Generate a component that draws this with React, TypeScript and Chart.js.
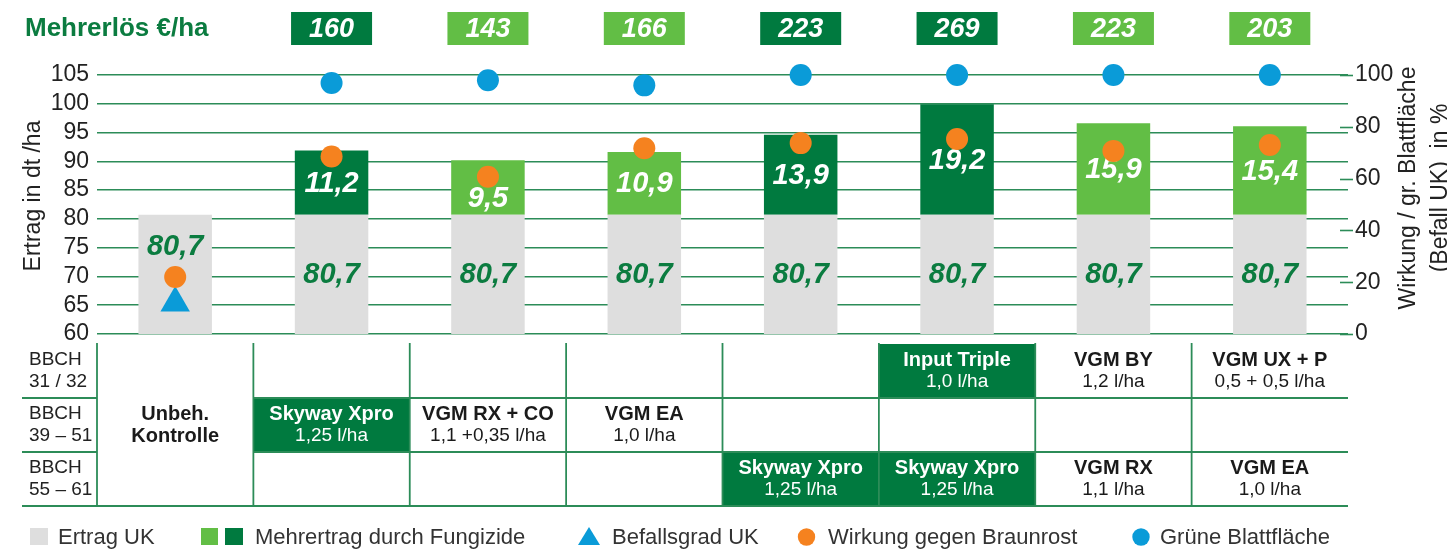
import React, { useEffect, useRef } from 'react';
import { Chart, registerables } from 'chart.js';

Chart.register(...registerables);

// ---------- data ----------
const categories = [
  'Unbeh. Kontrolle',
  'Skyway Xpro',
  'VGM RX + CO',
  'VGM EA',
  'Skyway Xpro (BBCH 55–61)',
  'Input Triple + Skyway Xpro',
  'VGM BY + VGM RX',
  'VGM UX + P + VGM EA',
];
const ertragUK = [80.7, 80.7, 80.7, 80.7, 80.7, 80.7, 80.7, 80.7];
const mehrertrag = [null, 11.2, 9.5, 10.9, 13.9, 19.2, 15.9, 15.4];
const mehrertragDark = [false, true, false, false, true, true, false, false];
const mehrerloes = [null, 160, 143, 166, 223, 269, 223, 203];
const befallsgrad = [12, null, null, null, null, null, null, null];
const wirkung = [22, 68.5, 60.7, 71.7, 73.7, 75.3, 70.7, 73];
const blattflaeche = [null, 96.9, 98, 96, 100, 100, 100, 100];
const leftTickMin = 60;
const leftTickMax = 105;
const leftTickStep = 5;
const rightTicks = [0, 20, 40, 60, 80, 100];
const bbchRows = [
  ['BBCH', '31 / 32'],
  ['BBCH', '39 – 51'],
  ['BBCH', '55 – 61'],
];
type Cell = { name: string; rate: string; dark?: boolean } | null;
const tableRow1: Cell[] = [
  null, null, null, null, null,
  { name: 'Input Triple', rate: '1,0 l/ha', dark: true },
  { name: 'VGM BY', rate: '1,2 l/ha' },
  { name: 'VGM UX + P', rate: '0,5 + 0,5 l/ha' },
];
const tableRow2: Cell[] = [
  null,
  { name: 'Skyway Xpro', rate: '1,25 l/ha', dark: true },
  { name: 'VGM RX + CO', rate: '1,1 +0,35 l/ha' },
  { name: 'VGM EA', rate: '1,0 l/ha' },
  null, null, null, null,
];
const tableRow3: Cell[] = [
  null, null, null, null,
  { name: 'Skyway Xpro', rate: '1,25 l/ha', dark: true },
  { name: 'Skyway Xpro', rate: '1,25 l/ha', dark: true },
  { name: 'VGM RX', rate: '1,1 l/ha' },
  { name: 'VGM EA', rate: '1,0 l/ha' },
];
const controlLabel = ['Unbeh.', 'Kontrolle'];
const legendLabels = ['Ertrag UK', 'Mehrertrag durch Fungizide', 'Befallsgrad UK', 'Wirkung gegen Braunrost', 'Grüne Blattfläche'];

// ---------- styles ----------
const GRAY = '#DEDEDE';
const DARK = '#007A3F';
const LIGHT = '#62BE45';
const ORANGE = '#F5821F';
const BLUE = '#0A9BD8';
const GRID = '#2C8C58';
const TEXT = '#222222';
const LABEL_GREEN = '#0B7C40';
const FONT = "'Liberation Sans', Arial, Helvetica, sans-serif";

const fmt = (v: number) => v.toFixed(1).replace('.', ',');

const overlayPlugin = {
  id: 'overlay',
  afterDatasetDraw(chart: any, args: any) {
    if (args.index !== 0) return;
    const ctx = chart.ctx;
    const x = chart.scales.x;
    const y = chart.scales.y;
    const y1 = chart.scales.y1;
    const area = chart.chartArea;
    ctx.save();
    ctx.textAlign = 'center';
    ctx.textBaseline = 'middle';
    ctx.font = `italic bold 29px ${FONT}`;
    for (let i = 0; i < categories.length; i++) {
      const cx = x.getPixelForValue(i);
      const baseTop = y.getPixelForValue(ertragUK[i]);
      const inc = mehrertrag[i];
      let by = (area.bottom + baseTop) / 2;
      if (inc == null) by = y1.getPixelForValue(wirkung[i]) - 31;
      ctx.fillStyle = LABEL_GREEN;
      ctx.fillText(fmt(ertragUK[i]), cx, by + 1);
      if (inc != null) {
        const top = y.getPixelForValue(ertragUK[i] + inc);
        let iy = (top + baseTop) / 2;
        if (i === 2) iy += 10;
        ctx.fillStyle = '#FFFFFF';
        ctx.fillText(fmt(inc), cx, iy + 1);
      }
    }
    ctx.restore();
  },
  afterDraw(chart: any) {
    const ctx = chart.ctx;
    const x = chart.scales.x;
    const y1 = chart.scales.y1;
    const area = chart.chartArea;
    const half = (x.getPixelForValue(1) - x.getPixelForValue(0)) / 2;
    const bounds: number[] = [];
    for (let i = 0; i <= categories.length; i++) bounds.push(i < categories.length ? x.getPixelForValue(i) - half : x.getPixelForValue(i - 1) + half);
    ctx.save();

    // right axis tick marks
    ctx.strokeStyle = GRID;
    ctx.lineWidth = 1.6;
    rightTicks.forEach((v) => {
      const py = Math.round(y1.getPixelForValue(v)) + 0.5;
      ctx.beginPath();
      ctx.moveTo(area.right - 8, py);
      ctx.lineTo(area.right + 5, py);
      ctx.stroke();
    });

    // axis titles
    ctx.fillStyle = TEXT;
    ctx.font = `23px ${FONT}`;
    ctx.textAlign = 'center';
    ctx.textBaseline = 'middle';
    ctx.save();
    ctx.translate(34, 196);
    ctx.rotate(-Math.PI / 2);
    ctx.fillText('Ertrag in dt /ha', 0, 0);
    ctx.restore();
    ctx.save();
    ctx.translate(1409, 188);
    ctx.rotate(-Math.PI / 2);
    ctx.fillText('Wirkung / gr. Blattfläche', 0, 0);
    ctx.fillText('(Befall UK)  in %', 0, 32);
    ctx.restore();

    // header
    ctx.textAlign = 'left';
    ctx.fillStyle = LABEL_GREEN;
    ctx.font = `bold 26px ${FONT}`;
    ctx.fillText('Mehrerlös €/ha', 25, 29);
    ctx.textAlign = 'center';
    ctx.font = `italic bold 27px ${FONT}`;
    for (let i = 0; i < categories.length; i++) {
      const v = mehrerloes[i];
      if (v == null) continue;
      const cx = x.getPixelForValue(i);
      ctx.fillStyle = mehrertragDark[i] ? DARK : LIGHT;
      ctx.fillRect(cx - 40.5, 12, 81, 33);
      ctx.fillStyle = '#FFFFFF';
      ctx.fillText(String(v), cx, 30);
    }

    // table
    const top = area.bottom + 10;
    const rowH = 54;
    const rows = [tableRow1, tableRow2, tableRow3];
    const tableLeft = 22;
    rows.forEach((row, r) => {
      row.forEach((cell, c) => {
        if (cell && cell.dark) {
          ctx.fillStyle = DARK;
          ctx.fillRect(bounds[c], top + r * rowH, bounds[c + 1] - bounds[c], rowH);
        }
      });
    });
    ctx.strokeStyle = GRID;
    ctx.lineWidth = 1.8;
    for (let r = 1; r <= 3; r++) {
      const ly = top + r * rowH;
      ctx.beginPath();
      if (r < 3) {
        ctx.moveTo(tableLeft, ly);
        ctx.lineTo(bounds[0], ly);
        ctx.moveTo(bounds[1], ly);
        ctx.lineTo(area.right, ly);
      } else {
        ctx.moveTo(tableLeft, ly);
        ctx.lineTo(area.right, ly);
      }
      ctx.stroke();
    }
    for (let c = 0; c < categories.length; c++) {
      ctx.beginPath();
      ctx.moveTo(bounds[c], top - 1);
      ctx.lineTo(bounds[c], top + 3 * rowH);
      ctx.stroke();
    }
    // BBCH labels
    ctx.textAlign = 'left';
    ctx.fillStyle = TEXT;
    ctx.font = `19px ${FONT}`;
    bbchRows.forEach((lines, r) => {
      ctx.fillText(lines[0], 29, top + r * rowH + 16);
      ctx.fillText(lines[1], 29, top + r * rowH + 38);
    });
    // cells
    ctx.textAlign = 'center';
    rows.forEach((row, r) => {
      row.forEach((cell, c) => {
        if (!cell) return;
        const cx = (bounds[c] + bounds[c + 1]) / 2;
        ctx.fillStyle = cell.dark ? '#FFFFFF' : '#1A1A1A';
        ctx.font = `bold 20px ${FONT}`;
        ctx.fillText(cell.name, cx, top + r * rowH + 16);
        ctx.font = `19px ${FONT}`;
        ctx.fillText(cell.rate, cx, top + r * rowH + 38);
      });
    });
    ctx.fillStyle = '#1A1A1A';
    ctx.font = `bold 20px ${FONT}`;
    const c0 = (bounds[0] + bounds[1]) / 2;
    ctx.fillText(controlLabel[0], c0, top + rowH + 16);
    ctx.fillText(controlLabel[1], c0, top + rowH + 38);

    // legend
    const LY = 537;
    ctx.textAlign = 'left';
    ctx.textBaseline = 'middle';
    ctx.fillStyle = GRAY;
    ctx.fillRect(30, LY - 9, 18, 17);
    ctx.fillStyle = LIGHT;
    ctx.fillRect(201, LY - 9, 17, 17);
    ctx.fillStyle = DARK;
    ctx.fillRect(225, LY - 9, 18, 17);
    ctx.fillStyle = BLUE;
    ctx.beginPath();
    ctx.moveTo(589, LY - 10);
    ctx.lineTo(600, LY + 8);
    ctx.lineTo(578, LY + 8);
    ctx.closePath();
    ctx.fill();
    ctx.fillStyle = ORANGE;
    ctx.beginPath();
    ctx.arc(806.5, LY, 8.7, 0, Math.PI * 2);
    ctx.fill();
    ctx.fillStyle = BLUE;
    ctx.beginPath();
    ctx.arc(1141, LY, 8.7, 0, Math.PI * 2);
    ctx.fill();
    ctx.fillStyle = '#333333';
    ctx.font = `22px ${FONT}`;
    const lx = [58, 255, 612, 828, 1160];
    legendLabels.forEach((t, i) => ctx.fillText(t, lx[i], LY + 1));

    ctx.restore();
  },
};

export default function App() {
  const ref = useRef<HTMLCanvasElement | null>(null);
  useEffect(() => {
    document.body.style.margin = '0';
    const canvas = ref.current;
    if (!canvas) return;
    const chart = new Chart(canvas, {
      type: 'bar',
      data: {
        labels: categories,
        datasets: [
          {
            type: 'bar',
            label: 'Ertrag UK',
            data: ertragUK,
            backgroundColor: GRAY,
            stack: 's',
            yAxisID: 'y',
            order: 9,
            barPercentage: 0.47,
            categoryPercentage: 1,
          },
          {
            type: 'bar',
            label: 'Mehrertrag durch Fungizide',
            data: mehrertrag as any,
            backgroundColor: mehrertragDark.map((d) => (d ? DARK : LIGHT)),
            stack: 's',
            yAxisID: 'y',
            order: 10,
            barPercentage: 0.47,
            categoryPercentage: 1,
          },
          {
            type: 'line',
            label: 'Befallsgrad UK',
            data: befallsgrad as any,
            yAxisID: 'y1',
            showLine: false,
            pointStyle: 'triangle',
            pointRadius: 17,
            pointHoverRadius: 17,
            pointBackgroundColor: BLUE,
            pointBorderWidth: 0,
            borderColor: BLUE,
            clip: false as any,
            order: 3,
          },
          {
            type: 'line',
            label: 'Wirkung gegen Braunrost',
            data: wirkung,
            yAxisID: 'y1',
            showLine: false,
            pointRadius: 11,
            pointHoverRadius: 11,
            pointBackgroundColor: ORANGE,
            pointBorderWidth: 0,
            borderColor: ORANGE,
            clip: false as any,
            order: 2,
          },
          {
            type: 'line',
            label: 'Grüne Blattfläche',
            data: blattflaeche as any,
            yAxisID: 'y1',
            showLine: false,
            pointRadius: 11,
            pointHoverRadius: 11,
            pointBackgroundColor: BLUE,
            pointBorderWidth: 0,
            borderColor: BLUE,
            clip: false as any,
            order: 1,
          },
        ],
      },
      options: {
        responsive: false,
        animation: false,
        events: [],
        layout: { padding: { left: 0, right: 0, top: 75, bottom: 215 } },
        plugins: { legend: { display: false }, tooltip: { enabled: false } },
        scales: {
          x: { type: 'category', display: false, stacked: true, offset: true, grid: { display: false } },
          y: {
            position: 'left',
            min: leftTickMin,
            max: leftTickMax,
            stacked: true,
            afterFit: (s: any) => { s.width = 97; },
            ticks: { stepSize: leftTickStep, autoSkip: false, padding: 8, color: TEXT, font: { family: FONT, size: 23 } },
            grid: { color: GRID, lineWidth: 1.6, drawTicks: false },
            border: { display: false },
          },
          y1: {
            position: 'right',
            min: 0,
            max: 100,
            afterFit: (s: any) => { s.width = 99; },
            afterBuildTicks: (s: any) => { s.ticks = rightTicks.map((v) => ({ value: v })); },
            ticks: { autoSkip: false, padding: 7, color: TEXT, font: { family: FONT, size: 23 } },
            grid: { display: false, drawTicks: false },
            border: { display: false },
          },
        },
      } as any,
      plugins: [overlayPlugin],
    });
    return () => chart.destroy();
  }, []);
  return <canvas ref={ref} width={1447} height={549} style={{ display: 'block' }} />;
}
